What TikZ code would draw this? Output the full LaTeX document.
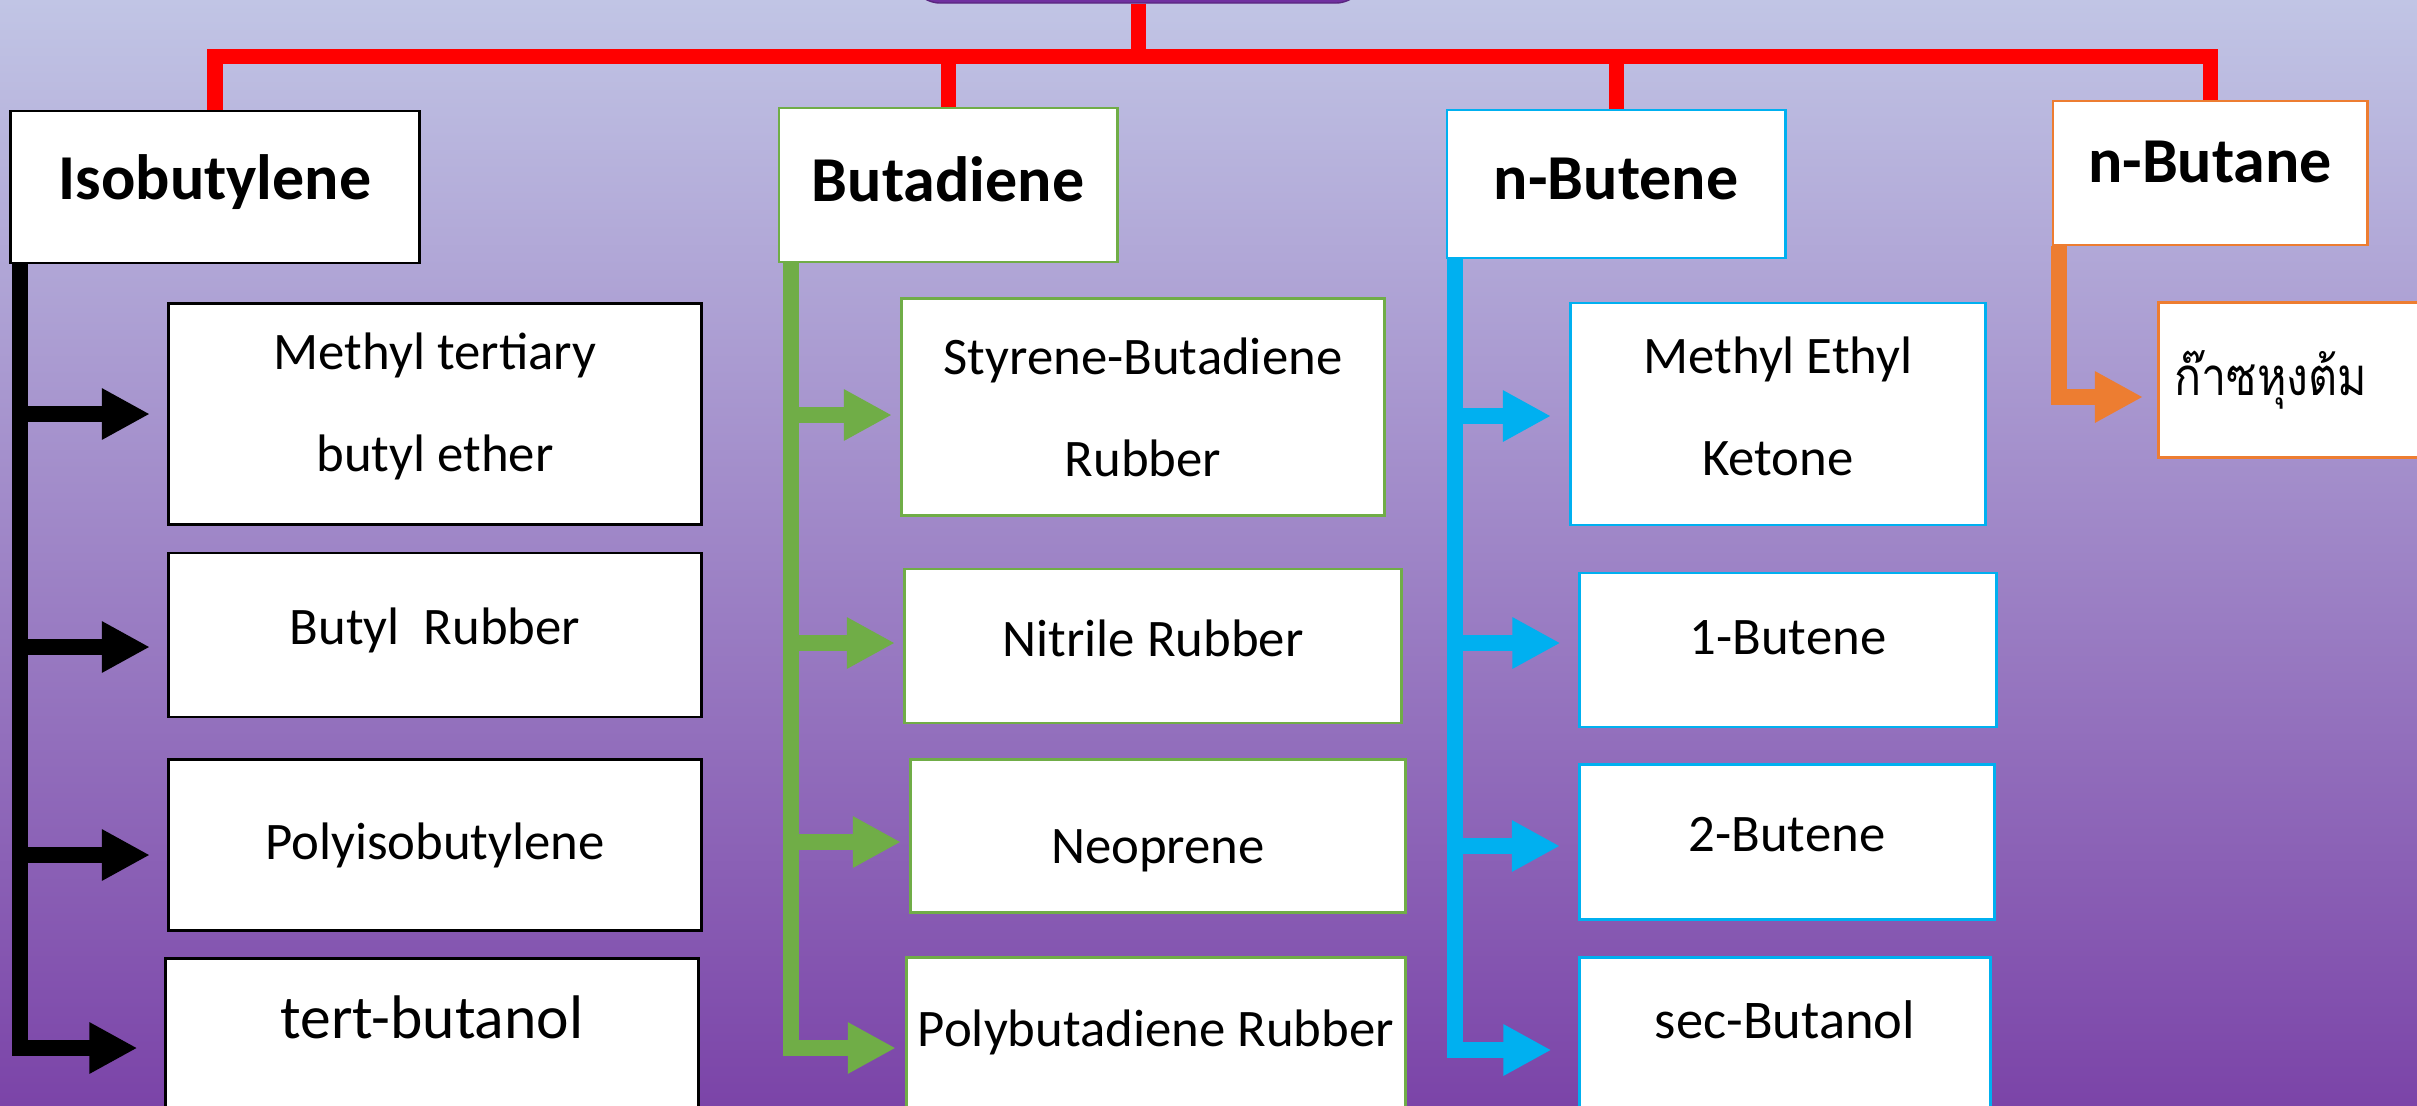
\documentclass[tikz,border=0pt]{standalone}
\usepackage{fontspec}
\setmainfont{Carlito}
\newfontfamily\thaifont[Script=Thai, FakeStretch=0.85]{Loma}
\usetikzlibrary{arrows.meta, positioning}

\definecolor{slidetop}{RGB}{193,197,229}
\definecolor{slidebottom}{RGB}{123,68,168}
\definecolor{rootpurple}{RGB}{112,48,160}
\definecolor{busred}{RGB}{255,0,0}
\definecolor{bdgreen}{RGB}{112,173,71}
\definecolor{nbcyan}{RGB}{0,176,240}
\definecolor{naorange}{RGB}{237,125,49}

\tikzset{
  headbox/.style={draw=#1, fill=white, line width=0.8pt, font=\fontsize{18.2}{22}\selectfont\bfseries},
  itembox/.style={draw=#1, fill=white, line width=0.8pt, align=center, font=\fontsize{15}{29}\selectfont},
  redbus/.style={draw=busred, line width=0.15cm},
  arm/.style={draw=#1, line width=0.16cm, line join=miter, -{Triangle[length=0.48cm, width=0.48cm]}},
}

\begin{document}
\begin{tikzpicture}[x=0.01cm, y=-0.01cm]
    % Slide background
    \useasboundingbox (0,0) rectangle (2417,1105);
    \clip (0,0) rectangle (2417,1105);
    \shade[top color=slidetop, bottom color=slidebottom] (0,0) rectangle (2417,1105);

    % Root box (cut off at the top)
    \node[draw=rootpurple!80!black, fill=rootpurple, rounded corners=0.3cm,
          minimum width=4.55cm, minimum height=0.86cm] (root) at (1138,-40) {};

    % Headers
    \node[headbox=black, minimum width=4.08cm, minimum height=1.52cm, text depth=0.20cm] (isob) at (215,187) {Isobutylene};
    \node[headbox=bdgreen, minimum width=3.38cm, minimum height=1.54cm, text depth=0.12cm] (butad) at (948,185) {Butadiene};
    \node[headbox=nbcyan, minimum width=3.38cm, minimum height=1.48cm, text depth=0.10cm] (nbutene) at (1616,184) {n-Butene};
    \node[headbox=naorange, minimum width=3.14cm, minimum height=1.44cm, text depth=0.22cm] (nbutane) at (2210,173) {n-Butane};

    % Red bus
    \draw[redbus] (root.south) -- (root.south |- 0,56);
    \draw[redbus, line join=miter] (isob.north) |- (nbutane.north |- 0,56) -- (nbutane.north);
    \foreach \h in {butad, nbutene}
        \draw[redbus] (\h.north |- 0,56) -- (\h.north);

    % Isobutylene products
    \node[itembox=black, minimum width=5.33cm, minimum height=2.21cm, text depth=0.23cm] (mtbe) at (435,414) {Methyl tertiary\\butyl ether};
    \node[itembox=black, minimum width=5.33cm, minimum height=1.64cm, text depth=0.17cm] (butyl) at (435,635) {Butyl\ \ Rubber};
    \node[itembox=black, minimum width=5.33cm, minimum height=1.71cm] (polyiso) at (435,845) {Polyisobutylene};
    \node[itembox=black, anchor=north, minimum width=5.32cm, inner ysep=0pt, text height=0.80cm, text depth=1.6cm,
          font=\fontsize{17.5}{21}\selectfont] (tbut) at (432,957) {tert-butanol};

    % Butadiene products
    \node[itembox=bdgreen, minimum width=4.83cm, minimum height=2.17cm] (sbr) at (1143,407) {Styrene-Butadiene\\Rubber};
    \node[itembox=bdgreen, minimum width=4.97cm, minimum height=1.54cm, text depth=0.16cm] (nitrile) at (1153,646) {Nitrile Rubber};
    \node[itembox=bdgreen, minimum width=4.95cm, minimum height=1.53cm, text height=0.64cm] (neoprene) at (1158,836) {Neoprene};
    \node[itembox=bdgreen, anchor=north, minimum width=4.97cm, inner ysep=0pt, text height=0.89cm, text depth=1.6cm] (polybut) at (1156,956) {Polybutadiene Rubber};

    % n-Butene products
    \node[itembox=nbcyan, minimum width=4.15cm, minimum height=2.22cm, text depth=0.16cm] (mek) at (1778,414) {Methyl Ethyl\\Ketone};
    \node[itembox=nbcyan, minimum width=4.16cm, minimum height=1.54cm, text depth=0.24cm] (butene1) at (1788,650) {1-Butene};
    \node[itembox=nbcyan, minimum width=4.15cm, minimum height=1.55cm, text depth=0.16cm] (butene2) at (1787,842) {2-Butene};
    \node[itembox=nbcyan, anchor=north, minimum width=4.10cm, inner ysep=0pt, text height=0.81cm, text depth=1.6cm,
          font=\fontsize{15.5}{19}\selectfont] (secbut) at (1785,956) {sec-Butanol};

    % n-Butane product
    \node[itembox=naorange, anchor=north west, minimum height=1.55cm, text width=3.0cm, inner xsep=0.16cm,
          align=left, font=\thaifont\fontsize{15}{20}\selectfont] (lpg) at (2157,301) {ก๊าซหุงต้ม};

    % Stems and arrows
    \coordinate (isoS) at ([xshift=0.11cm]isob.south west);
    \coordinate (butS) at ([xshift=0.13cm]butad.south west);
    \coordinate (nbeS) at ([xshift=0.09cm]nbutene.south west);
    \coordinate (nbaS) at ([xshift=0.07cm]nbutane.south west);

    \foreach \n/\y in {mtbe/414, butyl/647, polyiso/855}
        \draw[arm=black, shorten >=0.17cm] (isoS |- 0,\y) -- (\n.west |- 0,\y);
    \draw[arm=black, shorten >=0.27cm] (isoS) |- (tbut.west |- 0,1048);

    \foreach \n/\y in {sbr/415, nitrile/643, neoprene/842}
        \draw[arm=bdgreen, shorten >=0.08cm] (butS |- 0,\y) -- (\n.west |- 0,\y);
    \draw[arm=bdgreen, shorten >=0.09cm] (butS) |- (polybut.west |- 0,1048);

    \foreach \n/\y in {mek/416, butene1/643, butene2/846}
        \draw[arm=nbcyan, shorten >=0.18cm] (nbeS |- 0,\y) -- (\n.west |- 0,\y);
    \draw[arm=nbcyan, shorten >=0.27cm] (nbeS) |- (secbut.west |- 0,1050);

    \draw[arm=naorange, shorten >=0.14cm] (nbaS) |- (lpg.west |- 0,397);
\end{tikzpicture}
\end{document}
